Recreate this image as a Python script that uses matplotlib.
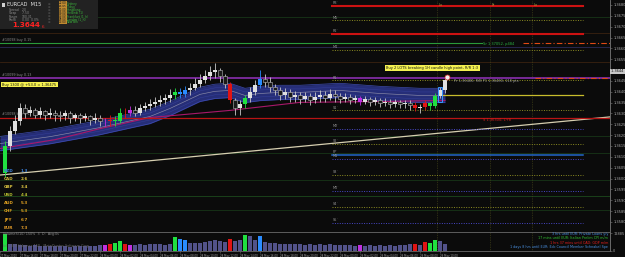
import matplotlib
matplotlib.use("Agg")
import matplotlib.pyplot as plt
import matplotlib.transforms as mtransforms
from matplotlib.patches import Rectangle
import numpy as np

W, H, DPI = 625, 257, 100

# ---------------- data ----------------
first_open = 1.36027
closes = [1.36152, 1.36221, 1.36267, 1.36323, 1.36304, 1.36314, 1.36295, 1.36309, 1.36291, 1.36304,
          1.36295, 1.36286, 1.36300, 1.36281, 1.36291, 1.36277, 1.36286, 1.36272, 1.36281, 1.36267,
          1.36263, 1.36272, 1.36263, 1.36304, 1.36300, 1.36314, 1.36304, 1.36323, 1.36332, 1.36342,
          1.36351, 1.36360, 1.36369, 1.36383, 1.36397, 1.36388, 1.36406, 1.36416, 1.36434, 1.36453,
          1.36471, 1.36490, 1.36499, 1.36471, 1.36434, 1.36360, 1.36323, 1.36342, 1.36369, 1.36397,
          1.36429, 1.36457, 1.36443, 1.36420, 1.36406, 1.36383, 1.36397, 1.36374, 1.36383, 1.36365,
          1.36379, 1.36360, 1.36374, 1.36383, 1.36369, 1.36388, 1.36379, 1.36365, 1.36374, 1.36360,
          1.36369, 1.36355, 1.36365, 1.36351, 1.36360, 1.36346, 1.36355, 1.36342, 1.36351, 1.36342,
          1.36346, 1.36337, 1.36323, 1.36328, 1.36346, 1.36332, 1.36379, 1.36406, 1.36453]
highs = [1.36175, 1.36244, 1.36291, 1.36346, 1.36342, 1.36332, 1.36323, 1.36328, 1.36318, 1.36323,
         1.36318, 1.36309, 1.36318, 1.36309, 1.36304, 1.36300, 1.36304, 1.36295, 1.36300, 1.36291,
         1.36281, 1.36291, 1.36286, 1.36323, 1.36323, 1.36332, 1.36332, 1.36342, 1.36355, 1.36365,
         1.36374, 1.36383, 1.36388, 1.36411, 1.36416, 1.36416, 1.36425, 1.36439, 1.36462, 1.36480,
         1.36499, 1.36517, 1.36531, 1.36508, 1.36480, 1.36443, 1.36369, 1.36360, 1.36383, 1.36420,
         1.36453, 1.36499, 1.36480, 1.36467, 1.36434, 1.36420, 1.36416, 1.36411, 1.36402, 1.36397,
         1.36397, 1.36392, 1.36397, 1.36406, 1.36402, 1.36411, 1.36406, 1.36392, 1.36392, 1.36388,
         1.36383, 1.36379, 1.36379, 1.36374, 1.36374, 1.36369, 1.36369, 1.36365, 1.36365, 1.36360,
         1.36360, 1.36360, 1.36351, 1.36342, 1.36360, 1.36355, 1.36392, 1.36420, 1.36471]
lows = [1.36008, 1.36129, 1.36207, 1.36249, 1.36277, 1.36286, 1.36277, 1.36281, 1.36272, 1.36277,
        1.36267, 1.36263, 1.36272, 1.36258, 1.36263, 1.36254, 1.36263, 1.36249, 1.36258, 1.36244,
        1.36240, 1.36244, 1.36240, 1.36254, 1.36281, 1.36286, 1.36286, 1.36295, 1.36309, 1.36318,
        1.36328, 1.36332, 1.36342, 1.36355, 1.36365, 1.36369, 1.36374, 1.36383, 1.36406, 1.36420,
        1.36439, 1.36453, 1.36462, 1.36443, 1.36416, 1.36346, 1.36295, 1.36291, 1.36323, 1.36355,
        1.36383, 1.36416, 1.36420, 1.36397, 1.36383, 1.36360, 1.36365, 1.36355, 1.36351, 1.36342,
        1.36351, 1.36337, 1.36346, 1.36355, 1.36351, 1.36360, 1.36355, 1.36346, 1.36351, 1.36342,
        1.36346, 1.36337, 1.36342, 1.36332, 1.36337, 1.36328, 1.36332, 1.36323, 1.36328, 1.36323,
        1.36323, 1.36318, 1.36309, 1.36304, 1.36314, 1.36318, 1.36323, 1.36369, 1.36392]
volumes = [950, 420, 380, 330, 360, 300, 320, 280, 300, 260,
           290, 270, 300, 250, 280, 300, 260, 310, 280, 330,
           360, 420, 450, 560, 400, 340, 320, 370, 350, 400,
           380, 420, 360, 400, 820, 700, 650, 460, 430, 480,
           520, 560, 620, 580, 540, 700, 560, 600, 900, 870,
           620, 860, 520, 480, 450, 420, 400, 380, 420, 390,
           360, 400, 350, 380, 340, 370, 330, 360, 320, 350,
           300, 340, 310, 330, 290, 320, 300, 340, 310, 350,
           330, 370, 420, 360, 520, 480, 620, 560, 380]
signal_bars = {0: "g", 20: "m", 21: "r", 22: "g", 23: "g", 24: "r", 25: "m", 34: "g", 35: "b", 36: "b",
               45: "r", 48: "g", 51: "b", 71: "m", 82: "r", 84: "r", 85: "g", 86: "g"}

# indicator readings (channel middle and slow MA) at selected bars
band_x = [-1, 9, 19, 29, 33, 39, 42, 45, 48, 51, 55, 59, 67, 75, 83, 88]
band_mid = [1.36161, 1.36193, 1.36235, 1.36286, 1.36323, 1.36388, 1.36402, 1.36406, 1.36383,
            1.36392, 1.36397, 1.36397, 1.36406, 1.36392, 1.36383, 1.36383]
slow_x = [-1, 10, 19, 29, 45, 59, 75, 88]
slow_ma = [1.36138, 1.36179, 1.36230, 1.36281, 1.36314, 1.36351, 1.36355, 1.36360]

price_ticks = [1.3680, 1.3675, 1.3670, 1.3665, 1.3660, 1.3655, 1.3650, 1.3645, 1.3640, 1.3635, 1.3630,
               1.3625, 1.3620, 1.3615, 1.3610, 1.3605, 1.3600, 1.3595, 1.3590, 1.3585, 1.3580]
bid_price = 1.36494
bid_text = "1.3644"
time_labels = ["27 May 2020", "27 May 16:00", "27 May 18:00", "27 May 20:00", "27 May 22:00",
               "28 May 00:00", "28 May 02:00", "28 May 04:00", "28 May 06:00", "28 May 08:00",
               "28 May 10:00", "28 May 12:00", "28 May 14:00", "28 May 16:00", "28 May 18:00",
               "28 May 20:00", "28 May 22:00", "29 May 00:00", "29 May 02:00", "29 May 04:00",
               "29 May 06:00", "29 May 08:00", "29 May 10:00"]

pivot_prices = [1.36795, 1.36730, 1.36666, 1.36592, 1.36453, 1.36314, 1.36230,
                1.36161, 1.36110, 1.36091, 1.36017, 1.35943, 1.35869, 1.35795]
pivot_names = ["R3", "M5", "R2", "M4", "R1", "S1", "M2", "S2", "PP", "M1", "S3", "M0", "S4", "S5"]
yellow_level = 1.36383

trend_x = [-1, 121]
trend_y = [1.36016, 1.36284]

currencies = ["NZD", "CAD", "GBP", "USD", "AUD", "CHF", "JPY", "EUR"]
strength = [1.3, 2.6, 3.4, 4.4, 5.3, 5.3, 6.7, 7.3]

sessions = ["Sydney", "Tokyo", "HongKong", "Helsinki (1)", "Frankfurt (1_h)", "London (1_h)", "NewYork"]
session_times = ["22:00", "00:00", "01:00", "06:00", "07:00", "08:00", "13:00"]

events = ["3 hrs until EUR: Private Loans y/y",
          "17 mins until EUR: Italian Prelim CPI m/m",
          "1 hrs 37 mins until CAD: GDP m/m",
          "1 days 8 hrs until EUR: Ecb Council Member Schnabel Spe"]

# ---------------- styles ----------------
BG = "#0b0b0b"
SIG = {"g": "#20e040", "r": "#e01414", "b": "#2a8cff", "m": "#c030e0"}
TXT = "#a8a8a8"

fig = plt.figure(figsize=(W / DPI, H / DPI), dpi=DPI, facecolor=BG)
MAIN_BOT = 231
ax = fig.add_axes([0, 1 - MAIN_BOT / H, 610 / W, MAIN_BOT / H], facecolor=BG)
axv = fig.add_axes([0, 6 / H, 610 / W, (251 - 232) / H], facecolor=BG)

ax.set_xlim(-1, 121)
ax.set_ylim(1.35758, 1.36823)
axv.set_xlim(-1, 121)
axv.set_ylim(0, 1080)

n = len(closes)
idx = list(range(n))
opens = [first_open] + closes[:-1]

# ---- horizontal full-width faint lines ----
faint = [(1.36744, "#173517"), (1.36670, "#3a2210"), (1.36605, "#2c2c58"), (1.36536, "#3a2210"),
         (1.36198, "#173517"), (1.36119, "#173517"), (1.35994, "#173517"), (1.35920, "#1c4a1c"),
         (1.35855, "#173517")]
for p, c in faint:
    ax.axhline(p, color=c, lw=0.6, zorder=1)

# ---- channel band ----
bm = np.array(band_mid)
ax.fill_between(band_x, bm - 0.00033, bm + 0.00033, color="#28317f", alpha=0.95, lw=0, zorder=2)
ax.plot(band_x, bm + 0.00033, color="#3d4bb0", lw=0.5, zorder=2)
ax.plot(band_x, bm - 0.00033, color="#3d4bb0", lw=0.5, zorder=2)
ax.plot(band_x, bm + 0.00016, color="#36409a", lw=0.35, zorder=2)
ax.plot(band_x, bm - 0.00016, color="#36409a", lw=0.35, zorder=2)
ax.plot(band_x, bm, color="#8c8ca8", lw=0.45, zorder=2)
ax.plot(slow_x, slow_ma, color="#a8186a", lw=0.8, zorder=2)

# ---- trend line ----
ax.plot(trend_x, trend_y, color="#d6cfb0", lw=0.9, zorder=3)

# ---- special full-width lines ----
ax.plot([-1, 95.4], [1.36624, 1.36624], color="#2a9a3a", lw=0.8, zorder=3)
ax.plot([103.6, 121], [1.36624, 1.36624], color="#e04a14", lw=0.8, ls=(0, (5, 2, 1, 2)), zorder=3)
ax.axhline(1.36462, color="#8a2fb0", lw=1.2, zorder=3)
ax.plot([106, 121], [1.36462, 1.36462], color="#e04a14", lw=0.8, ls=(0, (5, 2, 1, 2)), zorder=3)
ax.axhline(1.36281, color="#b81414", lw=0.9, zorder=3)

# ---- pivot levels ----
x0p, x1p = 65.4, 115.6
for p, name in zip(pivot_prices, pivot_names):
    if name in ("R3", "R2"):
        ax.plot([x0p, x1p], [p, p], color="#cc1212", lw=1.5, zorder=3)
    elif name == "PP":
        ax.plot([x0p, x1p], [p, p], color="#2266c8", lw=1.1, zorder=3)
    elif name in ("M2", "M1", "M0", "S5"):
        ax.plot([x0p, x1p], [p, p], color="#4848c8", lw=0.7, ls=(0, (1, 1.5)), zorder=3)
    else:
        ax.plot([x0p, x1p], [p, p], color="#8c8c22", lw=0.7, ls=(0, (1, 1.5)), zorder=3)
    ax.text(x0p + 0.2, p + 0.00003, name + "\u02d9", color="#9a9a9a", fontsize=2.4, va="bottom",
            ha="left", zorder=6)
ax.plot([87.6, x1p], [yellow_level, yellow_level], color="#c8bc2c", lw=0.9, zorder=3)

# ---- session verticals ----
for xv, lab in zip([86.4, 97, 105.4], ["Lo", "Fr", "Lo"]):
    ax.axvline(xv, color="#4e4e1c", lw=0.5, ls=(0, (1, 1.5)), zorder=1)
    axv.axvline(xv, color="#4e4e1c", lw=0.5, ls=(0, (1, 1.5)), zorder=1)
    ax.text(xv + 0.3, 1.36800, lab, color="#a0a040", fontsize=2.5, va="center", ha="left")

# ---- candles ----
for i in idx:
    o, h, l, c = opens[i], highs[i], lows[i], closes[i]
    sig = signal_bars.get(i)
    col = SIG[sig] if sig else "#c8c8c8"
    ax.vlines(i, l, h, color=col, lw=0.6, zorder=4)
    bottom = min(o, c)
    height = max(abs(c - o), 0.000025)
    if sig:
        ax.bar(i, height, bottom=bottom, width=0.62, color=col, lw=0, zorder=5)
    elif c >= o:
        ax.bar(i, height, bottom=bottom, width=0.62, color="#e0e0e0", lw=0, zorder=5)
    else:
        ax.bar(i, height, bottom=bottom, width=0.62, color="#1a1a1a", edgecolor="#b8b8b8",
               lw=0.4, zorder=5)

# boxed candle and signal circle
ax.add_patch(Rectangle((86.55, 1.36355), 0.9, 0.00068, fill=False, ec="#3a9aff", lw=0.7, zorder=6))
ax.plot([88.4], [1.36467], marker="o", ms=3.6, mfc="#f0f0f0", mec="#e03030", mew=0.5, zorder=7)

# ---- annotations on the chart ----
ax.text(-0.6, 1.36640, "#10098 buy 0.15", color="#8a8a8a", fontsize=2.4, va="center", ha="left")
ax.text(-0.6, 1.36476, "#10099 buy 0.13", color="#8a8a8a", fontsize=2.4, va="center", ha="left")
ax.text(-0.6, 1.36433, "Buy 1300 @ +53.0 = 1.36475 ", color="#111111", fontsize=2.6, va="center",
        ha="left", zorder=8, bbox=dict(boxstyle="square,pad=0.25", fc="#f4f050", ec="none"))
ax.text(-0.6, 1.36297, "#10098 buy 0.13", color="#8a8a8a", fontsize=2.4, va="center", ha="left")
ax.text(76.2, 1.36509, "Buy 2 LOTS breaking 1H candle high point, R/R 1:3 ", color="#111111",
        fontsize=2.6, va="center", ha="left", zorder=8,
        bbox=dict(boxstyle="square,pad=0.3", fc="#f4f050", ec="none"))
ax.text(95.6, 1.36620, "Sr 1.37052, p484", color="#2ab040", fontsize=2.6, va="center", ha="left")
ax.text(89.8, 1.36448, "Pr 1.36480, R/B P1 1.36480, 118 pts", color="#a0a0a0", fontsize=2.5,
        va="center", ha="left")
ax.text(95.6, 1.36268, "S 1.36300, L+8", color="#d02020", fontsize=2.6, va="center", ha="left")

# ---- axes styling ----
for a in (ax, axv):
    for sp in a.spines.values():
        sp.set_visible(False)
    a.spines["right"].set_visible(True)
    a.spines["right"].set_color("#7a7a7a")
    a.spines["right"].set_linewidth(0.6)
for side in ("top", "bottom"):
    axv.spines[side].set_visible(True)
    axv.spines[side].set_color("#6a6a6a")
    axv.spines[side].set_linewidth(0.6)

ax.yaxis.tick_right()
ax.set_yticks(price_ticks)
ax.set_yticklabels(["" if abs(p - bid_price) < 0.00025 else f"{p:.4f}" for p in price_ticks])
ax.tick_params(axis="y", colors="#7a7a7a", labelcolor=TXT, labelsize=2.6, length=1.5, width=0.4, pad=0.8)
ax.set_xticks([])

trans = mtransforms.blended_transform_factory(ax.transAxes, ax.transData)
ax.text(1.002, bid_price, bid_text + " ", transform=trans, color="#111111", fontsize=2.6,
        va="center", ha="left", zorder=9, clip_on=False,
        bbox=dict(boxstyle="square,pad=0.2", fc="#c8c8c8", ec="none"))

# ---- volume ----
vcols = [SIG[signal_bars[i]] if i in signal_bars else "#52528a" for i in idx]
axv.bar(idx, volumes, width=0.62, color=vcols, lw=0, zorder=3)
axv.yaxis.tick_right()
axv.set_yticks([0, 1000])
axv.set_yticklabels(["0", "12885"])
axv.tick_params(axis="y", colors="#7a7a7a", labelcolor=TXT, labelsize=2.5, length=1.5, width=0.4, pad=0.8)
axv.set_xticks([4 * k - 1 for k in range(len(time_labels))])
axv.set_xticklabels(time_labels, ha="left")
axv.tick_params(axis="x", colors="#6a6a6a", labelcolor=TXT, labelsize=1.9, length=1.2, width=0.4, pad=0.6)
axv.text(0.005, 0.88, "VolumeS(10) 150%  3  D:  Avg:0s", transform=axv.transAxes, color="#8a8a8a",
         fontsize=2.4, va="center", ha="left")
axv.text(0.005, 0.25, "(c) 2019 Volumes 150 - MetaQuotes Software Corp.", transform=axv.transAxes,
         color="#6a6a6a", fontsize=2.4, va="center", ha="left")
ev_cols = ["#4a90e0", "#30c030", "#e02020", "#4a90e0"]
for k, (e, c) in enumerate(zip(events, ev_cols)):
    axv.text(0.997, 0.88 - k * 0.22, e, transform=axv.transAxes, color=c, fontsize=2.4,
             va="center", ha="right", zorder=8)


# ---- overlays in pixel coordinates ----
def ptext(x, y, s, **kw):
    fig.text(x / W, 1 - y / H, s, va="center", **kw)


fig.add_artist(Rectangle((0, 1 - 29 / H), 98 / W, 29 / H, transform=fig.transFigure,
                         fc="#222222", ec="none", zorder=10))
fig.add_artist(Rectangle((2 / W, 1 - 7 / H), 3 / W, 4 / H, transform=fig.transFigure,
                         fc="#d0d0d0", ec="none", zorder=11))
ptext(7, 5, "EURCAD  M15", color="#e8e8e8", fontsize=3.6, zorder=11)
for k, (lab, val) in enumerate(zip(["Spread", "Swap", "Range", "Profit"],
                                     ["2.0", "-7.50", "100.31", "0.00  0.0%"])):
    ptext(9, 10 + k * 3.4, lab, color="#8c8c8c", fontsize=2.2, zorder=11)
    ptext(22, 10 + k * 3.4, val, color="#8c8c8c", fontsize=2.2, zorder=11)
ptext(12, 25, bid_text, color="#ff2222", fontsize=5.2, fontweight="bold", zorder=11)
ptext(42, 26.5, "6", color="#ff2222", fontsize=3, zorder=11)
for k in range(7):
    ptext(48, 4 + k * 3.1, "\u2261", color="#5a5a5a", fontsize=2.2, zorder=11)
for k, (t, sname) in enumerate(zip(session_times, sessions)):
    ptext(59, 3.5 + k * 3.1, t, color="#1a1a1a", fontsize=2.0, zorder=12,
          bbox=dict(boxstyle="square,pad=0.1", fc="#c08a30", ec="none"))
    ptext(67, 3.5 + k * 3.1, sname, color="#3cb83c", fontsize=2.1, zorder=11)

cur_cols = ["#3a7fd8", "#d8c040", "#d8c040", "#b8c030", "#e0a020", "#e0a020", "#e0a020", "#e09a28"]
for k, (cc, v, col) in enumerate(zip(currencies, strength, cur_cols)):
    yy = 171 + k * 8.1
    ptext(4, yy, cc, color=col, fontsize=3.0, fontweight="bold", zorder=11)
    ptext(21, yy, f"{v:.1f}", color=col, fontsize=3.0, fontweight="bold", zorder=11)

fig.savefig("out.png", dpi=DPI, facecolor=BG)
